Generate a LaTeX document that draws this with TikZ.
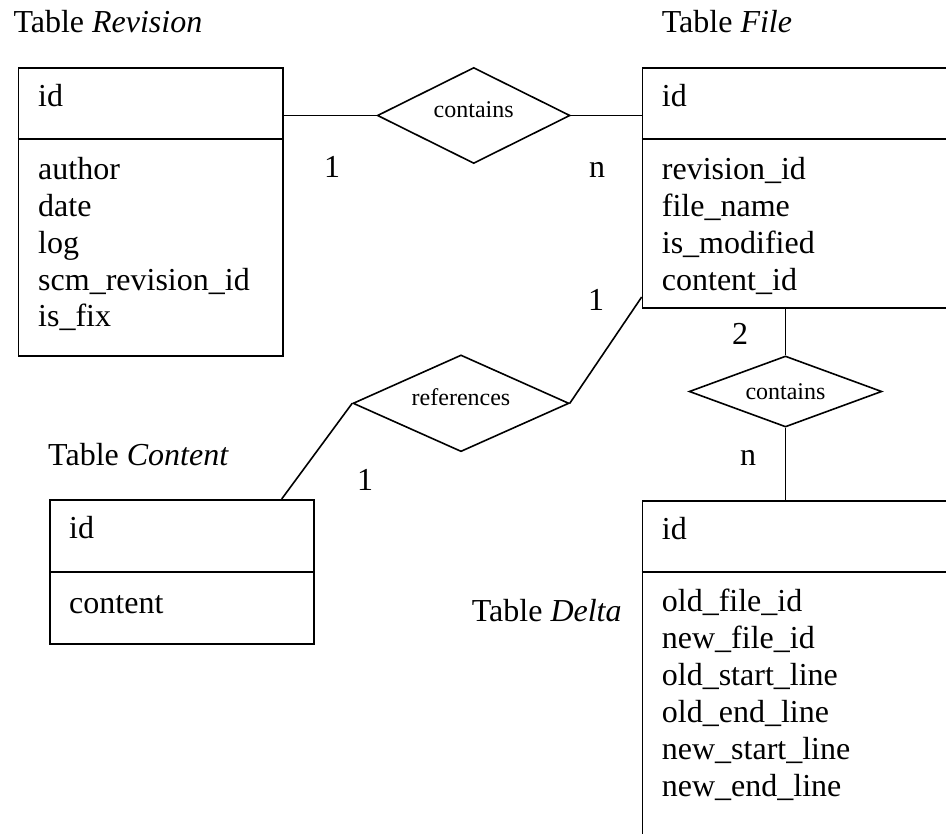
\documentclass[tikz,border=0pt]{standalone}
\usepackage{fontspec}
\setmainfont{Liberation Serif}
\usetikzlibrary{shapes.geometric}
\begin{document}
\begin{tikzpicture}[x=1pt,y=-1pt,
  tbox/.style={draw, rectangle, anchor=north west, inner sep=0pt, line width=1.6pt},
  rel/.style={draw, diamond, aspect=2.7, inner sep=0pt, line width=1.6pt, font=\fontsize{24}{28}\selectfont},
  upshift/.style={text height=16pt, text depth=11pt},
  txt/.style={anchor=base west, inner sep=0pt, font=\fontsize{32}{37}\selectfont},
  card/.style={anchor=base, inner sep=0pt, font=\fontsize{32}{37}\selectfont},
  conn/.style={draw, line width=1.6pt},
  divider/.style={draw, line width=1.6pt}]
\path[use as bounding box] (0,0) rectangle (946,834);
\clip (0,0) rectangle (946,834);

% Tables
\node[tbox, minimum width=264.5pt, minimum height=287.5pt] (rev) at (17.5,67.5) {};
\node[tbox, minimum width=330pt, minimum height=240pt] (file) at (641.7,67.3) {};
\node[tbox, minimum width=263.7pt, minimum height=144pt] (cont) at (49.3,499) {};
\node[tbox, minimum width=330pt, minimum height=360pt] (delta) at (641.7,500) {};

\draw[divider] (rev.west |- 0,139) -- (rev.east |- 0,139);
\draw[divider] (file.west |- 0,139) -- (file.east |- 0,139);
\draw[divider] (cont.west |- 0,572) -- (cont.east |- 0,572);
\draw[divider] (delta.west |- 0,572) -- (delta.east |- 0,572);

% Titles
\node[txt] (trev) at (13.3,33) {Table \textit{Revision}};
\node[txt] (tfile) at (661.7,33) {Table \textit{File}};
\node[txt] (tcont) at (48,465) {Table \textit{Content}};
\node[txt] (tdelta) at (471.7,621.7) {Table \textit{Delta}};

% Revision fields
\node[txt] (rid) at (38,107) {id};
\foreach \t [count=\i from 0] in {author,date,log,scm\_revision\_id,is\_fix}
  \node[txt] (r\i) at (38,180+36.75*\i) {\t};

% File fields
\node[txt] (fid) at (661.7,107) {id};
\foreach \t [count=\i from 0] in {revision\_id,file\_name,is\_modified,content\_id}
  \node[txt] (f\i) at (661.7,180+36.75*\i) {\t};

% Content fields
\node[txt] (cid) at (69,538) {id};
\node[txt] (cc) at (69,613) {content};

% Delta fields
\node[txt] (did) at (661.7,539) {id};
\foreach \t [count=\i from 0] in {old\_file\_id,new\_file\_id,old\_start\_line,old\_end\_line,new\_start\_line,new\_end\_line}
  \node[txt] (d\i) at (661.7,611.7+37*\i) {\t};

% Relationships
\node[rel, upshift, minimum width=192.7pt, minimum height=96pt] (c1) at (473.7,115.5) {contains};
\node[rel, upshift, minimum width=216pt, minimum height=96.7pt] (refs) at (461,403.3) {references};
\node[rel, minimum width=192.7pt, minimum height=71pt] (c2) at (785.5,391.5) {contains};

% Connectors
\coordinate (cjoin) at (281.7,499);
\coordinate (fjoin) at (641.7,297);
\path[conn] (c1.west) -- (c1.west -| rev.east);
\path[conn] (c1.east) -- (c1.east -| file.west);
\path[conn] (refs.west) -- (cjoin);
\path[conn] (refs.east) -- (fjoin);
\path[conn] (c2.north) -- (c2.north |- file.south);
\path[conn] (c2.south) -- (c2.south |- delta.north);

% Cardinalities
\node[card] (k1) at (332,178) {1};
\node[card] (k2) at (597,178) {n};
\node[card] (k3) at (596,311) {1};
\node[card] (k4) at (365,490) {1};
\node[card] (k5) at (740,345) {2};
\node[card] (k6) at (748,465) {n};
\end{tikzpicture}
\end{document}
